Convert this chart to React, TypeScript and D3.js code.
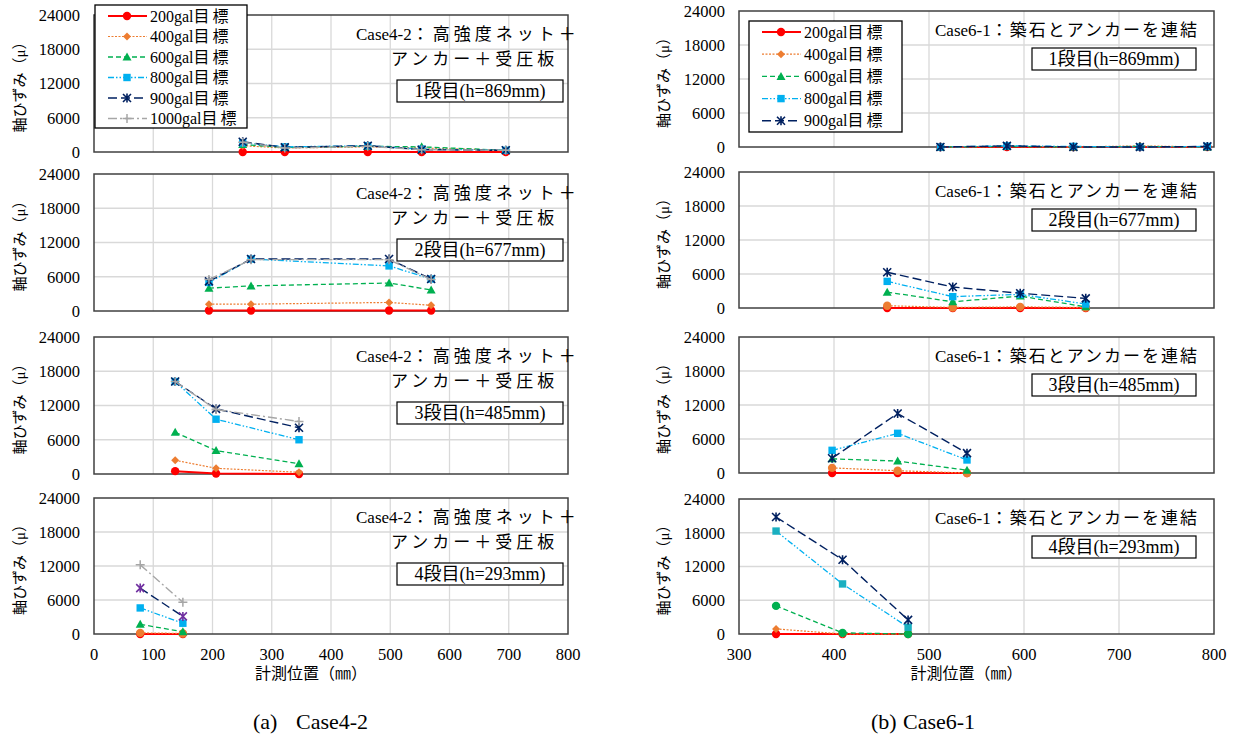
import React from "react";
import * as d3 from "d3";

// ---------- data ----------
const seriesNames = ["200gal目標", "400gal目標", "600gal目標", "800gal目標", "900gal目標", "1000gal目標"];
const yTicks = [0, 6000, 12000, 18000, 24000];
const xTicksA = [0, 100, 200, 300, 400, 500, 600, 700, 800];
const xTicksB = [300, 400, 500, 600, 700, 800];

// Case4-2
const posA1 = [251, 322, 462, 553, 695];
const valA1 = [
  [0, 0, 0, 0, 0],
  [1100, 700, 900, 700, 300],
  [1300, 800, 1000, 900, 300],
  [1600, 900, 1100, 500, 300],
  [1800, 800, 1100, 400, 300],
  [1700, 700, 1000, 400, 300],
];
const posA2 = [194, 265, 498, 569];
const valA2 = [
  [100, 100, 100, 100],
  [1200, 1200, 1500, 1000],
  [4000, 4400, 4900, 3700],
  [5000, 9100, 7900, 5600],
  [5200, 9100, 9100, 5600],
  [5500, 9000, 9000, 5500],
];
const posA3 = [137, 206, 346];
const valA3 = [
  [500, 100, 0],
  [2400, 1000, 300],
  [7300, 4100, 1800],
  [16200, 9600, 6000],
  [16200, 11400, 8100],
  [16200, 11300, 9200],
];
const posA4 = [78, 150];
const valA4 = [
  [0, 0],
  [200, 100],
  [1700, 400],
  [4600, 1900],
  [8100, 3100],
  [12200, 5600],
];

// Case6-1
const posB1 = [512, 582, 652, 722, 793];
const valB1 = [
  [0, 0, 0, 0, 0],
  [0, 100, 0, 200, 0],
  [0, 100, 0, 100, 0],
  [0, 200, 100, 0, 100],
  [0, 200, 0, 0, 100],
];
const posB2 = [456, 525, 596, 665];
const valB2 = [
  [0, 0, 0, 0],
  [400, 100, 200, 100],
  [2800, 1100, 2100, 200],
  [4700, 2000, 2400, 700],
  [6300, 3700, 2600, 1700],
];
const posB3 = [398, 467, 540];
const valB3 = [
  [0, 0, 0],
  [900, 400, 0],
  [2500, 2100, 500],
  [4000, 7000, 2300],
  [2600, 10500, 3500],
];
const posB4 = [339, 409, 478];
const valB4 = [
  [0, 0, 0],
  [900, 0, 0],
  [5000, 200, 0],
  [18300, 8900, 1200],
  [20800, 13200, 2500],
];

const caseA = "Case4-2";
const titleA1 = "：高強度ネット＋";
const titleA2 = "アンカー＋受圧板";
const caseB = "Case6-1";
const titleB = "：築石とアンカーを連結";
const levelLabels = ["1段目(h=869mm)", "2段目(h=677mm)", "3段目(h=485mm)", "4段目(h=293mm)"];

// ---------- styles ----------
const FONT = "'Liberation Serif','Times New Roman','Noto Sans CJK JP',serif";
const styles = [
  { color: "#FF0000", dash: "", width: 2, marker: "circle" },
  { color: "#ED7D31", dash: "2,1.5", width: 1.2, marker: "diamond" },
  { color: "#00B050", dash: "5,3", width: 1.3, marker: "triangle" },
  { color: "#00B0F0", dash: "6,2,1.5,2,1.5,2", width: 1.3, marker: "square" },
  { color: "#002060", dash: "9,4", width: 1.4, marker: "star" },
  { color: "#A6A6A6", dash: "9,3,2,3", width: 1.4, marker: "plus" },
];

function Marker({ kind, cx, cy, color }: { kind: string; cx: number; cy: number; color: string }) {
  switch (kind) {
    case "circle":
      return <circle cx={cx} cy={cy} r={4.2} fill={color} />;
    case "diamond":
      return <path d={`M${cx},${cy - 4}L${cx + 4},${cy}L${cx},${cy + 4}L${cx - 4},${cy}Z`} fill={color} />;
    case "triangle":
      return <path d={`M${cx},${cy - 4.5}L${cx + 4.5},${cy + 3.5}L${cx - 4.5},${cy + 3.5}Z`} fill={color} />;
    case "square":
      return <rect x={cx - 3.7} y={cy - 3.7} width={7.4} height={7.4} fill={color} />;
    case "star":
      return (
        <path
          d={`M${cx - 4},${cy - 4}L${cx + 4},${cy + 4}M${cx - 4},${cy + 4}L${cx + 4},${cy - 4}M${cx},${cy - 4.5}L${cx},${cy + 4.5}`}
          stroke={color}
          strokeWidth={1.6}
          fill="none"
        />
      );
    case "plus":
      return (
        <path d={`M${cx - 4.5},${cy}L${cx + 4.5},${cy}M${cx},${cy - 4.5}L${cx},${cy + 4.5}`} stroke={color} strokeWidth={1.5} fill="none" />
      );
    default:
      return null;
  }
}

type PanelCfg = {
  left: number;
  right: number;
  top: number;
  bottom: number;
  xDomain: [number, number];
  xTicks: number[];
  showX: boolean;
  pos: number[];
  vals: number[][];
  overrides?: Record<number, { marker?: string; markerColor?: string }>;
  kind: "A" | "B";
  level: string;
};

function Panel({ c }: { c: PanelCfg }) {
  const x = d3.scaleLinear().domain(c.xDomain).range([c.left, c.right]);
  const y = d3.scaleLinear().domain([0, 24000]).range([c.bottom, c.top]);
  const line = d3
    .line<number>()
    .x((_, i) => x(c.pos[i]))
    .y((d) => y(d));
  const labelX = c.left - 14;
  return (
    <g>
      {c.xTicks.slice(1, -1).map((t) => (
        <line key={"vx" + t} x1={x(t)} x2={x(t)} y1={c.top} y2={c.bottom} stroke="#D9D9D9" strokeWidth={1.3} />
      ))}
      {yTicks.slice(1, -1).map((t) => (
        <line key={"hy" + t} x1={c.left} x2={c.right} y1={y(t)} y2={y(t)} stroke="#D9D9D9" strokeWidth={1.3} />
      ))}
      <rect x={c.left} y={c.top} width={c.right - c.left} height={c.bottom - c.top} fill="none" stroke="#404040" strokeWidth={1.5} />
      {yTicks.map((t) => (
        <text key={"yl" + t} x={labelX} y={y(t)} dy="0.35em" textAnchor="end" fontSize={16.5} fontFamily={FONT} fill="#000">
          {t}
        </text>
      ))}
      <text
        transform={`translate(${c.kind === "A" ? 20 : 664},${(c.top + c.bottom) / 2}) rotate(-90)`}
        textAnchor="middle"
        dy="0.35em"
        fontSize={15}
        fontFamily={FONT}
      >
        軸ひずみ（μ）
      </text>
      {c.showX &&
        c.xTicks.map((t) => (
          <text key={"xl" + t} x={x(t)} y={c.bottom + 20} dy="0.35em" textAnchor="middle" fontSize={16.5} fontFamily={FONT}>
            {t}
          </text>
        ))}
      {c.showX && (
        <text x={(c.left + c.right) / 2 + (c.kind === "A" ? -20 : -10)} y={c.bottom + 39} dy="0.35em" textAnchor="middle" fontSize={16} fontFamily={FONT}>
          計測位置（㎜）
        </text>
      )}
      {c.vals.map((vs, si) => {
        const st = styles[si];
        const ov = (c.overrides && c.overrides[si]) || {};
        return (
          <g key={"s" + si}>
            <path d={line(vs) || ""} fill="none" stroke={st.color} strokeWidth={st.width} strokeDasharray={st.dash || undefined} />
            {vs.map((v, i) => (
              <Marker key={i} kind={ov.marker || st.marker} cx={x(c.pos[i])} cy={y(v)} color={ov.markerColor || st.color} />
            ))}
          </g>
        );
      })}
      {c.kind === "A" ? (
        <g fontFamily={FONT} fontSize={17}>
          <text x={356} y={c.top + 19} dy="0.35em">
            <tspan>{caseA}</tspan>
            <tspan letterSpacing={4}>{titleA1}</tspan>
          </text>
          <text x={391} y={c.top + 44} dy="0.35em" letterSpacing={4}>
            {titleA2}
          </text>
          <rect x={397} y={c.top + 65} width={166} height={22} fill="#fff" stroke="#000" strokeWidth={1.2} />
          <text x={480} y={c.top + 76} dy="0.35em" textAnchor="middle" fontSize={18}>
            {c.level}
          </text>
        </g>
      ) : (
        <g fontFamily={FONT} fontSize={17}>
          <text x={935} y={c.top + 19} dy="0.35em">
            <tspan>{caseB}</tspan>
            <tspan letterSpacing={2}>{titleB}</tspan>
          </text>
          <rect x={1032} y={c.top + 37} width={164} height={22} fill="#fff" stroke="#000" strokeWidth={1.2} />
          <text x={1114} y={c.top + 48} dy="0.35em" textAnchor="middle" fontSize={18}>
            {c.level}
          </text>
        </g>
      )}
    </g>
  );
}

function Legend({ x0, y0, w, h, n, step, first }: { x0: number; y0: number; w: number; h: number; n: number; step: number; first: number }) {
  return (
    <g>
      <rect x={x0} y={y0} width={w} height={h} fill="#fff" stroke="#000" strokeWidth={1.3} />
      {seriesNames.slice(0, n).map((name, i) => {
        const st = styles[i];
        const cy = y0 + first + i * step;
        const head = name.slice(0, -1);
        const tail = name.slice(-1);
        return (
          <g key={name}>
            <line x1={x0 + 13} x2={x0 + 52} y1={cy} y2={cy} stroke={st.color} strokeWidth={st.width} strokeDasharray={st.dash || undefined} />
            <Marker kind={st.marker} cx={x0 + 32} cy={cy} color={st.color} />
            <text x={x0 + 55} y={cy} dy="0.35em" fontSize={16} fontFamily={FONT}>
              <tspan>{head}</tspan>
              <tspan dx={3}>{tail}</tspan>
            </text>
          </g>
        );
      })}
    </g>
  );
}

const aL = 94, aR = 568, bL = 739, bR = 1214;

const panels: PanelCfg[] = [
  { left: aL, right: aR, top: 15, bottom: 152, xDomain: [0, 800], xTicks: xTicksA, showX: false, pos: posA1, vals: valA1, kind: "A", level: levelLabels[0] },
  { left: aL, right: aR, top: 174, bottom: 311, xDomain: [0, 800], xTicks: xTicksA, showX: false, pos: posA2, vals: valA2, kind: "A", level: levelLabels[1] },
  { left: aL, right: aR, top: 337, bottom: 474, xDomain: [0, 800], xTicks: xTicksA, showX: false, pos: posA3, vals: valA3, kind: "A", level: levelLabels[2] },
  {
    left: aL, right: aR, top: 498, bottom: 634, xDomain: [0, 800], xTicks: xTicksA, showX: true, pos: posA4, vals: valA4, kind: "A", level: levelLabels[3],
    overrides: { 1: { marker: "circle" }, 4: { markerColor: "#7030A0" } },
  },
  { left: bL, right: bR, top: 11, bottom: 147, xDomain: [300, 800], xTicks: xTicksB, showX: false, pos: posB1, vals: valB1, kind: "B", level: levelLabels[0] },
  { left: bL, right: bR, top: 172, bottom: 308, xDomain: [300, 800], xTicks: xTicksB, showX: false, pos: posB2, vals: valB2, kind: "B", level: levelLabels[1], overrides: { 1: { marker: "circle" } } },
  { left: bL, right: bR, top: 337, bottom: 473, xDomain: [300, 800], xTicks: xTicksB, showX: false, pos: posB3, vals: valB3, kind: "B", level: levelLabels[2], overrides: { 1: { marker: "circle" } } },
  {
    left: bL, right: bR, top: 499, bottom: 634, xDomain: [300, 800], xTicks: xTicksB, showX: true, pos: posB4, vals: valB4, kind: "B", level: levelLabels[3],
    overrides: { 2: { marker: "circle" }, 3: { markerColor: "#1AAFC0" } },
  },
];

export default function App() {
  return (
    <svg width={1239} height={740} style={{ position: "absolute", left: 0, top: 0, background: "#fff" }}>
      <rect x={0} y={0} width={1239} height={740} fill="#fff" />
      {panels.map((p, i) => (
        <Panel key={i} c={p} />
      ))}
      <Legend x0={95} y0={5} w={152} h={123} n={6} step={20.5} first={11} />
      <Legend x0={749} y0={21} w={153} h={111} n={5} step={22.2} first={11} />
      <g fontFamily={FONT} fontSize={22}>
        <text x={253} y={721} dy="0.35em">(a)</text>
        <text x={296} y={721} dy="0.35em">Case4-2</text>
        <text x={871} y={721} dy="0.35em">(b)</text>
        <text x={903} y={721} dy="0.35em">Case6-1</text>
      </g>
    </svg>
  );
}
